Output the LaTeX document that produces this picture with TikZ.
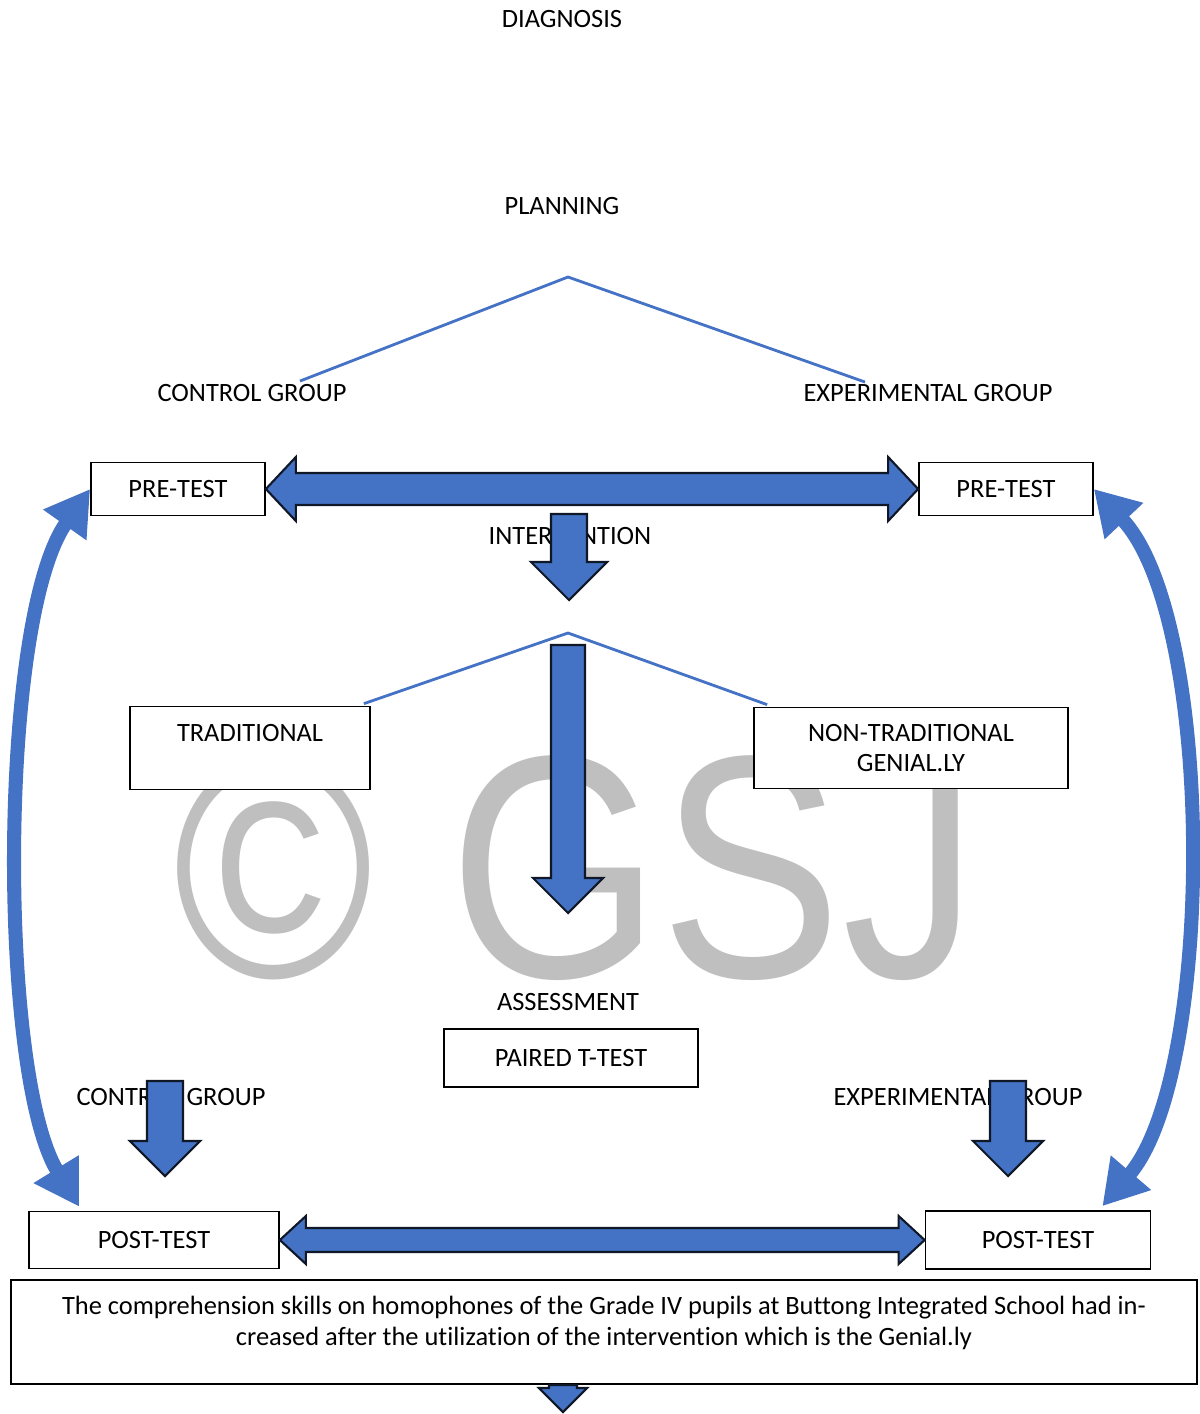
\documentclass[tikz,border=0pt]{standalone}
\usepackage{fontspec}
\setmainfont{Carlito}[Ligatures=NoCommon]
\newfontfamily\markfont{Liberation Sans}
\usetikzlibrary{arrows.meta,calc}
\definecolor{officeblue}{RGB}{68,114,196}
\definecolor{arrowedge}{RGB}{16,24,40}

% block arrows: top point, tip, half shaft, half head
\newcommand{\blockdown}[4]{%
  \draw[blk] ($(#1)+(-#3,0)$) -- ($(#1)+(#3,0)$) -- ($(#2)+(#3,-#4)$) -- ($(#2)+(#4,-#4)$)
    -- (#2) -- ($(#2)+(-#4,-#4)$) -- ($(#2)+(-#3,-#4)$) -- cycle;}
% left tip, right tip, half shaft, half head, head length
\newcommand{\blockboth}[5]{%
  \draw[blk] (#1) -- ($(#1)+(#5,-#4)$) -- ($(#1)+(#5,-#3)$) -- ($(#2)+(-#5,-#3)$) -- ($(#2)+(-#5,-#4)$)
    -- (#2) -- ($(#2)+(-#5,#4)$) -- ($(#2)+(-#5,#3)$) -- ($(#1)+(#5,#3)$) -- ($(#1)+(#5,#4)$) -- cycle;}

\begin{document}
\begin{tikzpicture}[x=0.025cm, y=-0.025cm,
    font=\fontsize{18.8}{22}\selectfont,
    box/.style={draw, line width=1.2pt, fill=white, align=center, inner sep=0pt},
    lbl/.style={align=center, inner sep=0pt},
    blk/.style={fill=officeblue, draw=arrowedge, line width=1.5pt, line join=miter},
    branch/.style={draw=officeblue, line width=2pt},
    loop/.style={draw=officeblue, line width=10pt, >={Triangle[length=1.1cm,width=1.25cm]}, <->}
]
\useasboundingbox (0,0) rectangle (1199,1414);

% watermark
\node[text=black!25, font=\markfont\fontsize{226}{226}\selectfont] (mark) at (576,868) {\scalebox{0.855}[1]{© GSJ}};

\node[lbl] (diag) at (562,19) {DIAGNOSIS};
\node[lbl] (plan) at (562,206) {PLANNING};
\coordinate (split1) at (568,277);
\node[lbl] (ctrl1) at (252,393) {CONTROL GROUP};
\node[lbl] (exp1) at (928,393) {EXPERIMENTAL GROUP};
\node[box, minimum width=4.35cm, minimum height=1.325cm] (pre1) at (178,489) {PRE-TEST};
\node[box, minimum width=4.35cm, minimum height=1.325cm] (pre2) at (1006,489) {PRE-TEST};
\node[lbl] (interv) at (570,536) {INTERVENTION};
\coordinate (split2) at (568,633);
\node[box, minimum width=6cm, minimum height=2.075cm] (trad) at (250,748) {TRADITIONAL\\~};
\node[box, minimum width=7.85cm, minimum height=2.025cm] (nontrad) at (911,748) {NON-TRADITIONAL\\GENIAL.LY};
\node[lbl] (assess) at (568,1002) {ASSESSMENT};
\node[box, minimum width=6.35cm, minimum height=1.45cm] (paired) at (571,1058) {PAIRED T-TEST};
\node[lbl] (ctrl2) at (171,1097) {CONTROL GROUP};
\node[lbl] (exp2) at (958,1097) {EXPERIMENTAL GROUP};
\node[box, minimum width=6.25cm, minimum height=1.425cm] (post1) at (154,1240) {POST-TEST};
\node[box, minimum width=5.625cm, minimum height=1.45cm] (post2) at (1038,1240) {POST-TEST};
\node[box, minimum width=29.65cm, minimum height=2.6cm] (result) at (604,1332) {};
\node[lbl] (resulttxt) at (604,1323) {The comprehension skills on homophones of the Grade IV pupils at Buttong Integrated School had in-\\creased after the utilization of the intervention which is the Genial.ly};

% branches
\draw[branch] ($(ctrl1.north)+(48,-3)$) -- (split1) -- ($(exp1.north)+(-63,-2)$);
\draw[branch] ($(trad.north east)+(-7,-2)$) -- (split2) -- ($(nontrad.north west)+(14,-2)$);

% block arrows
\blockboth{pre1.east}{pre2.west}{16}{32}{30}
\coordinate (intv top) at (569,514);
\coordinate (intv tip) at (569,600);
\blockdown{intv top}{intv tip}{18}{38}
\coordinate (long top) at (568,645);
\coordinate (long tip) at (568,913);
\blockdown{long top}{long tip}{17}{35}
\coordinate (ctrl top) at (165,1081);
\coordinate (ctrl tip) at (165,1176);
\blockdown{ctrl top}{ctrl tip}{18}{35}
\coordinate (exp top) at (1008,1081);
\coordinate (exp tip) at (1008,1176);
\blockdown{exp top}{exp tip}{18}{35}
\blockboth{post1.east}{post2.west}{12}{24}{26}
\coordinate (res top) at (563,1385);
\coordinate (res tip) at (563,1412);
\blockdown{res top}{res tip}{14}{24}

% pre/post loops
\draw[loop] (pre1.west) .. controls +(-92,130) and +(-81,-132) .. ($(post1.north west)+(51,-4)$);
\draw[loop] (pre2.east) .. controls +(122,130) and +(113,-132) .. ($(post2.north east)+(-49,-4)$);
\end{tikzpicture}
\end{document}
